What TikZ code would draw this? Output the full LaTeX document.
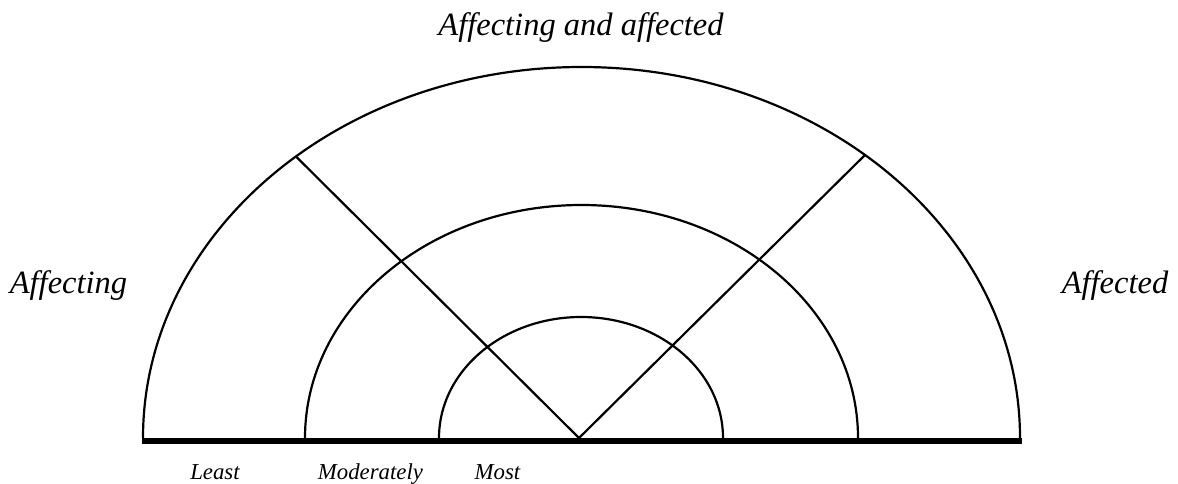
\documentclass[tikz,border=0pt]{standalone}
\usepackage{fontspec}
\setmainfont{Liberation Serif}
\begin{document}
\begin{tikzpicture}[x=1pt,y=1pt,
  arcline/.style={line width=2.2pt, black},
  divline/.style={line width=2.2pt, black},
  baseln/.style={line width=5.5pt, black},
  biglabel/.style={font=\fontsize{32.5}{38}\selectfont\itshape, anchor=base, inner sep=0pt},
  smalllabel/.style={font=\fontsize{22.8}{27}\selectfont\itshape, anchor=base, inner sep=0pt}]
\useasboundingbox (0,0) rectangle (1178,-484);
\coordinate (C) at (581.5,-438);
\coordinate (V) at (579,-438);
\coordinate (L) at (296,-156.5);
\coordinate (R) at (865,-155);
\coordinate (BL) at (142,-441);
\coordinate (BR) at (1022,-441);
% arcs
\draw[arcline] (1020,-438) arc[start angle=0, end angle=180, x radius=438.5, y radius=371];
\draw[arcline] (858,-438) arc[start angle=0, end angle=180, x radius=276.5, y radius=233];
\draw[arcline] (723,-438) arc[start angle=0, end angle=180, x radius=142, y radius=121];
% dividers
\draw[divline] (V) -- (L);
\draw[divline] (V) -- (R);
% base
\draw[baseln] (BL) -- (BR);
% labels
\node[biglabel] (top) at (581,-36) {Affecting and affected};
\node[biglabel] (left) at (68.5,-293) {Affecting};
\node[biglabel] (right) at (1115,-293) {Affected};
\node[smalllabel] (least) at (215,-479) {Least};
\node[smalllabel] (mod) at (370.5,-479) {Moderately};
\node[smalllabel] (most) at (497.5,-479) {Most};
\end{tikzpicture}
\end{document}
